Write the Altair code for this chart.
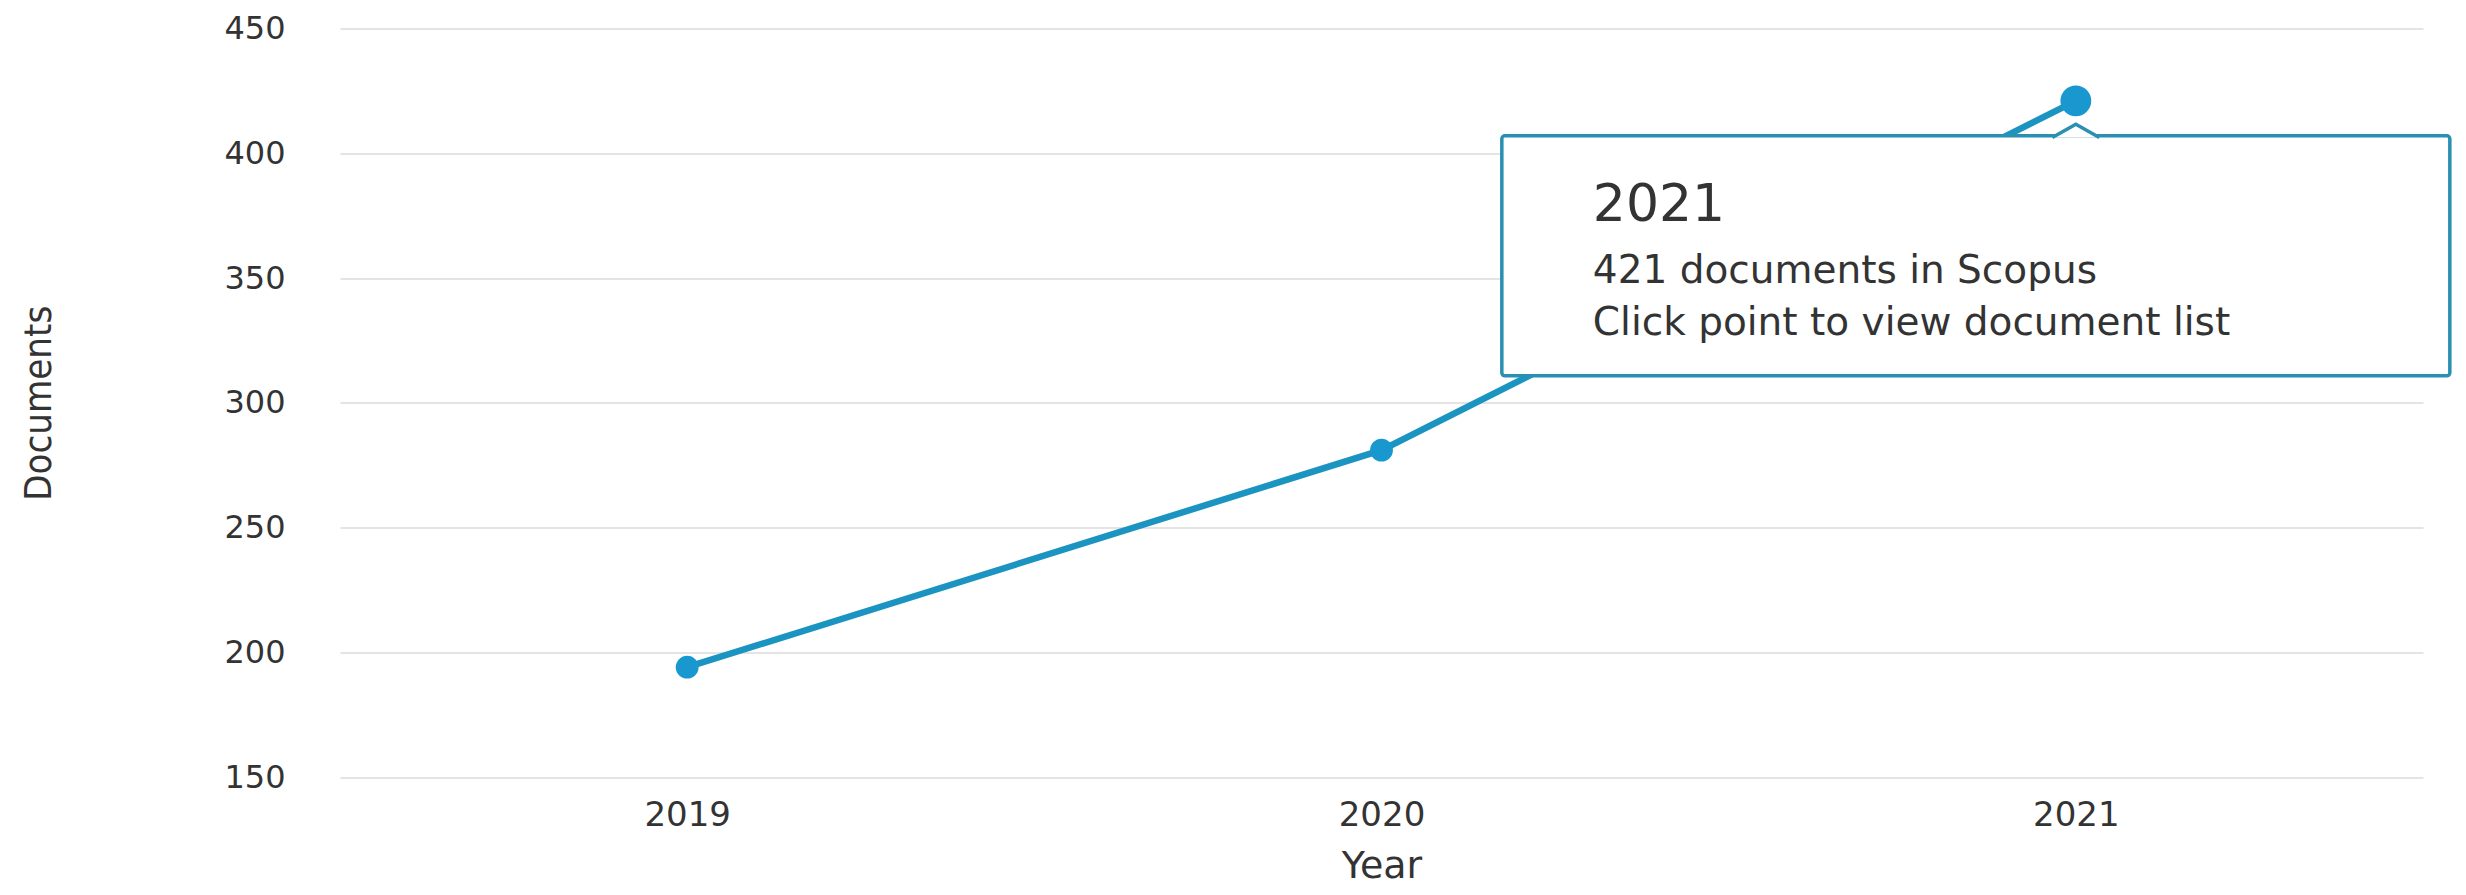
import altair as alt
import pandas as pd

# ---- data ----
years = ["2019", "2020", "2021"]
documents = [194, 281, 421]
y_ticks = [150, 200, 250, 300, 350, 400, 450]
highlight_year = "2021"
highlight_docs = 421
tooltip_title = highlight_year
tooltip_count = f"{highlight_docs} documents in Scopus"
tooltip_hint = "Click point to view document list"

df = pd.DataFrame({"Year": years, "Documents": documents})
hl = pd.DataFrame({"Year": [highlight_year], "Documents": [highlight_docs]})

LINE = "#1c94c2"
POINT = "#1898cf"
BORDER = "#2b8fb1"
TEXT = "#333333"
FONT = "DejaVu Sans"
COND = "DejaVu Sans Condensed, Liberation Sans Narrow, DejaVu Sans"

x = alt.X(
    "Year:O",
    scale=alt.Scale(type="point", domain=years, padding=0.5),
    axis=alt.Axis(
        labelAngle=0, grid=False, domain=False, ticks=False, tickSize=0,
        labelFont=FONT, labelFontSize=34, labelColor=TEXT, labelPadding=38,
        labelBaseline="middle",
        title="Year", titleFont=FONT, titleFontSize=38, titleFontWeight="normal",
        titleColor=TEXT, titleY=89, titleBaseline="middle",
    ),
)
y = alt.Y(
    "Documents:Q",
    scale=alt.Scale(domain=[150, 450], nice=False, zero=False),
    axis=alt.Axis(
        values=y_ticks, grid=True, gridColor="#e4e4e4", gridWidth=2,
        domain=False, ticks=False, tickSize=0,
        labelFont=FONT, labelFontSize=32, labelColor=TEXT, labelPadding=55,
        title="Documents", titleFont=COND, titleFontSize=38, titleFontWeight="normal",
        titleColor=TEXT, titleX=-301, titleBaseline="middle",
    ),
)

base = alt.Chart(df)

line = base.mark_line(color=LINE, strokeWidth=6.5).encode(x=x, y=y)
points = base.mark_circle(color=POINT, size=520, opacity=1).encode(x=x, y=y)

hbase = alt.Chart(hl)
box = hbase.mark_rect(
    fill="white", stroke=BORDER, strokeWidth=3.5, cornerRadius=3,
    xOffset=-574, x2Offset=374, yOffset=35, y2Offset=275,
).encode(x=x, x2=alt.X2("Year"), y=y, y2=alt.Y2("Documents"))

notch = hbase.mark_point(
    shape="M -1 0.28 L 0 -0.28 L 1 0.28", size=2209, filled=True,
    fill="white", stroke=BORDER, strokeWidth=3.5, opacity=1, fillOpacity=1,
    yOffset=30,
).encode(x=x, y=y)

big_point = hbase.mark_circle(color=POINT, size=950, opacity=1).encode(x=x, y=y)

t1 = hbase.mark_text(
    align="left", baseline="middle", dx=-483, dy=104, font=FONT, fontSize=52, color=TEXT,
).encode(x=x, y=y, text=alt.value(tooltip_title))
t2 = hbase.mark_text(
    align="left", baseline="middle", dx=-483, dy=170, font=FONT, fontSize=39, color=TEXT,
).encode(x=x, y=y, text=alt.value(tooltip_count))
t3 = hbase.mark_text(
    align="left", baseline="middle", dx=-483, dy=222, font=FONT, fontSize=39, color=TEXT,
).encode(x=x, y=y, text=alt.value(tooltip_hint))

chart = (
    alt.layer(line, points, box, notch, big_point, t1, t2, t3)
    .properties(
        width=2083,
        height=748.5,
        autosize=alt.AutoSizeParams(type="none"),
        padding={"left": 332, "top": 20.5, "right": 35, "bottom": 110},
        background="white",
    )
    .configure_view(strokeWidth=0)
)

chart.save("out.html", embed_options={"renderer": "svg", "actions": False})
